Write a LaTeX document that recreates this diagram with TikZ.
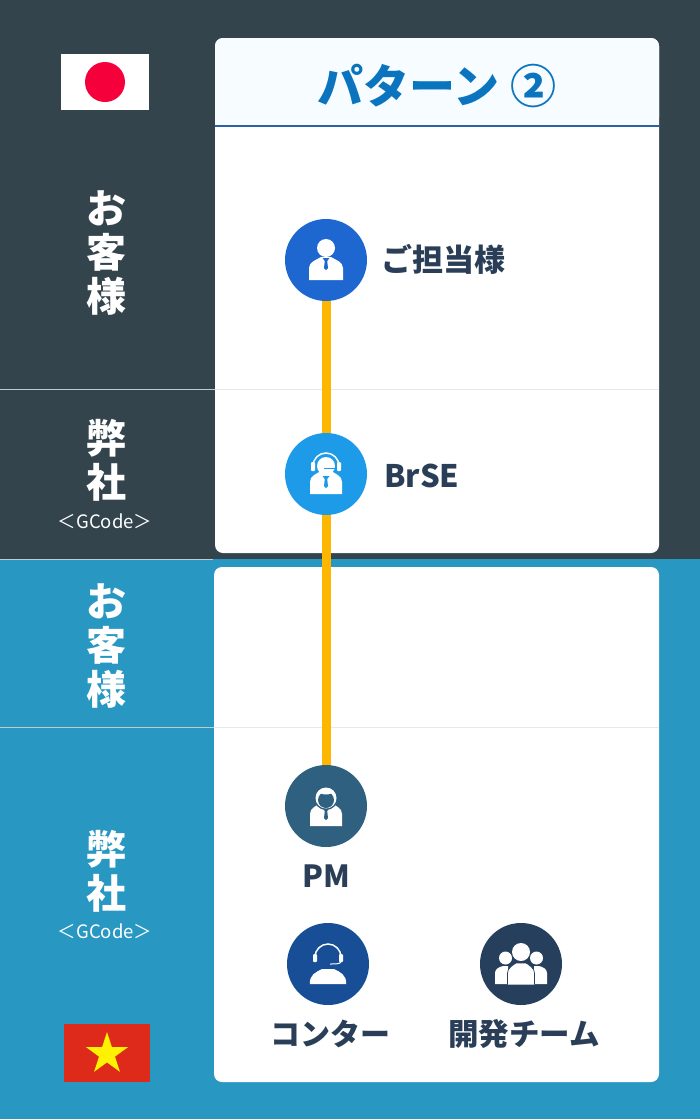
\documentclass[tikz,border=0pt]{standalone}
\usepackage{fontspec}
\setmainfont{Noto Sans CJK JP}
\usetikzlibrary{shapes.geometric}
\definecolor{darkbg}{HTML}{33444D}
\definecolor{bluebg}{HTML}{2898C2}
\definecolor{headbg}{HTML}{F6FCFF}
\definecolor{titleblue}{HTML}{0A75BE}
\definecolor{headline}{HTML}{2A62A8}
\definecolor{linkgold}{HTML}{FFB600}
\definecolor{labelcol}{HTML}{2A3F57}
\definecolor{sepline}{HTML}{BFCBCF}
\definecolor{cardline}{HTML}{E6E8EA}
\definecolor{tantoucol}{HTML}{1E66D0}
\definecolor{brsecol}{HTML}{1E9BE8}
\definecolor{pmcol}{HTML}{30607F}
\definecolor{contactcol}{HTML}{174E96}
\definecolor{teamcol}{HTML}{263F5C}
\definecolor{jpred}{HTML}{F5003A}
\definecolor{vnred}{HTML}{DE2A1B}
\definecolor{vnyellow}{HTML}{FFF200}
\newcommand{\pxfont}[1]{\fontsize{#1}{#1}\selectfont\bfseries}
\tikzset{
  role/.style={circle,minimum size=82pt,inner sep=0pt,fill=#1},
  side/.style={text=white,align=center,inner sep=0pt,font=\fontsize{40}{44}\selectfont\bfseries},
  gcode/.style={text=white,inner sep=0pt,font=\fontsize{18.5}{20}\selectfont},
  rolename/.style={text=labelcol,inner sep=0pt,font=\pxfont{#1}},
  link/.style={draw=linkgold,line width=9pt},
  rule/.style={draw=#1,line width=1pt},
  bust/.pic={
    \fill[white] (-#1,20) -- (-#1,8) .. controls (-#1,2) and (-10,0) .. (-5,-3) -- (5,-3) .. controls (10,0) and (#1,2) .. (#1,8) -- (#1,20) -- cycle;
  },
  tie/.pic={
    \fill[#1] (-3.5,0) -- (3.5,0) -- (1.2,3) -- (2,10) -- (0,12) -- (-2,10) -- (-1.2,3) -- cycle;
  }
}
\begin{document}
\begin{tikzpicture}[x=1pt,y=-1pt]
  \useasboundingbox (0,0) rectangle (700,1120);
  % backgrounds
  \fill[darkbg] (0,0) rectangle (700,559);
  \fill[bluebg] (0,559) rectangle (700,1119);
  \fill[white,rounded corners=8pt] (215,38) rectangle (659,553);
  \fill[white,rounded corners=8pt] (214,567) rectangle (659,1082);
  \fill[headbg,rounded corners=8pt] (215,126) -- (215,38) -- (659,38) -- (659,126) -- cycle;
  \draw[headline,line width=1.5pt] (215,126) -- (659,126);
  \draw[rule=sepline] (0,389) -- (215,389);
  \draw[rule=cardline] (215,389) -- (659,389);
  \draw[rule=sepline] (0,559) -- (213,559);
  \draw[rule=sepline] (0,727) -- (214,727);
  \draw[rule=cardline] (214,727) -- (659,727);

  % flags
  \node[rectangle,fill=white,minimum width=88pt,minimum height=56pt,inner sep=0pt] (jpflag) at (105,82) {};
  \node[circle,fill=jpred,minimum size=40pt,inner sep=0pt] (jpsun) at (jpflag) {};
  \node[rectangle,fill=vnred,minimum width=86pt,minimum height=58pt,inner sep=0pt] (vnflag) at (107,1053) {};
  \node[star,star points=5,star point ratio=2.618,fill=vnyellow,minimum size=44pt,inner sep=0pt] (vnstar) at (107,1054) {};

  % left column
  \node[side] (client1) at (106,253) {お\\客\\様};
  \node[side] (team1) at (106,460) {弊\\社};
  \node[gcode] (gcode1) at (105,521) {＜GCode＞};
  \node[side] (client2) at (106,646) {お\\客\\様};
  \node[side] (team2) at (106,871) {弊\\社};
  \node[gcode] (gcode2) at (105,931) {＜GCode＞};

  % title
  \node[text=titleblue,inner sep=0pt,font=\pxfont{46}] (title) at (437,86) {パターン ②};

  % roles
  \node[role=tantoucol] (tantou) at (326,260) {};
  \node[role=brsecol] (brse) at (326,474) {};
  \node[role=pmcol] (pm) at (326,806) {};
  \node[role=contactcol] (contact) at (328,964) {};
  \node[role=teamcol] (devteam) at (521,964) {};

  \draw[link] (tantou) -- (brse);
  \draw[link] (brse) -- (pm);

  % icons
  \fill[white] (326,248) circle (9pt);
  \pic at (326,260) {bust=17};
  \pic at (326,258) {tie=tantoucol};

  \pic at (326,474) {bust=16};
  \pic at (326,476) {tie=brsecol};
  \fill[white] (326,466) circle (9pt);
  \draw[white,line width=1.5pt] (313,466) arc[start angle=180,end angle=0,radius=13pt];
  \fill[white,rounded corners=1pt] (311,462) rectangle (315,471);
  \fill[white,rounded corners=1pt] (337,462) rectangle (341,471);
  \draw[brsecol,line width=1pt] (324,468) -- (337,468);

  \pic at (326,806) {bust=16};
  \pic at (326,808) {tie=pmcol};
  \fill[pmcol] (326,798) circle (12pt);
  \fill[white] (326,798) circle (10.5pt);
  \fill[pmcol] (326,800) circle (8pt);
  \fill[white] (326,792) ellipse (6pt and 2.5pt);

  \fill[white] (328,984) -- (310,984) .. controls (309,975) and (316,972) .. (322,969) -- (334,969) .. controls (340,972) and (347,975) .. (346,984) -- cycle;
  \draw[white,line width=1.5pt] (315,957) arc[start angle=180,end angle=0,radius=13pt];
  \fill[white,rounded corners=1pt] (313,954) rectangle (317,962);
  \fill[white,rounded corners=1pt] (339,954) rectangle (343,962);
  \draw[white,line width=1pt] (341,962) .. controls (340,964) and (335,964) .. (330,964);

  \fill[white] (505.5,958) circle (6.5pt);
  \fill[white] (536.5,958) circle (6.5pt);
  \fill[white] (495,984) -- (495,973) .. controls (495,969) and (499,967) .. (503,966) -- (508,966) -- (508,984) -- cycle;
  \fill[white] (547,984) -- (547,973) .. controls (547,969) and (543,967) .. (539,966) -- (534,966) -- (534,984) -- cycle;
  \fill[white] (521,952) circle (9pt);
  \fill[white,draw=teamcol,line width=0.7pt] (507.5,984.5) -- (507.5,973) .. controls (507.5,968) and (513,965) .. (516,963) -- (526,963) .. controls (529,965) and (534.5,968) .. (534.5,973) -- (534.5,984.5);

  % labels
  \node[rolename=31,anchor=west] (tantoulabel) at (381,259) {ご担当様};
  \node[rolename=31,anchor=west] (brselabel) at (384,476) {BrSE};
  \node[rolename=30.5] (pmlabel) at (326,876) {PM};
  \node[rolename=30] (contactlabel) at (330,1034) {コンター};
  \node[rolename=30.5] (devteamlabel) at (524,1034) {開発チーム};
\end{tikzpicture}
\end{document}
